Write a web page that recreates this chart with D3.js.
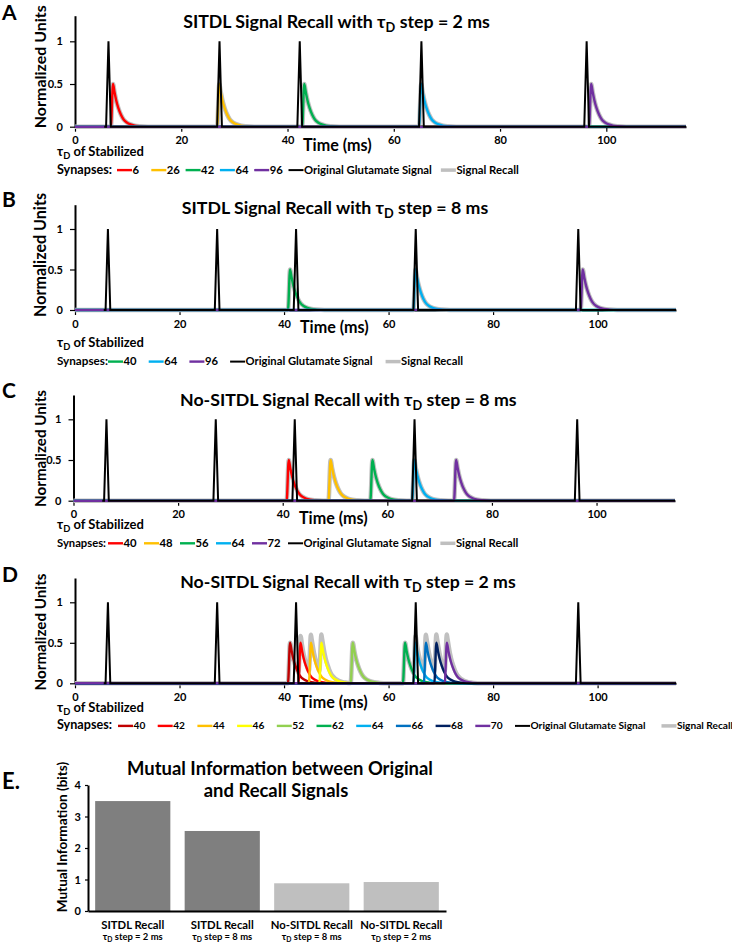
<!DOCTYPE html>
<html><head><meta charset="utf-8">
<script src="https://cdn.jsdelivr.net/npm/d3@7"></script>
<style>
body{margin:0;background:#fff;}
svg text{font-family:Lato,"Open Sans",sans-serif;font-weight:700;fill:#000;}
</style></head><body>
<svg id="chart" width="732" height="945"></svg>
<script>
// ---------------- DATA ----------------
const timeDomain = [0, 115];
const normDomain = [0, 1.3];
const xTickValues = [0, 20, 40, 60, 80, 100];
const yTickValues = [0, 0.5, 1];
// original glutamate spikes (ms)
const glutamateSpikeTimes = [6.3, 27.2, 42.3, 65.2, 96.3];
const glutamateStart = 5.5;
// spike shape (ms offset, normalized value)
const spikeShapeT = [-0.45, 0, 0.45];
const spikeShapeV = [0, 1, 0];
// recall pulse shape (ms after onset, normalized value)
const recallOnsetDelay = 0.75;
const recallShapeT = [0, 0.4, 0.7, 1.0, 1.4, 1.9, 2.4, 3.0, 3.7, 4.5, 5.5, 7.0];
const recallShapeV = [0, 0.5, 0.40, 0.31, 0.22, 0.14, 0.085, 0.05, 0.027, 0.013, 0.005, 0];

const tauA = [6, 26, 42, 64, 96];
const tauB = [40, 64, 96];
const tauC = [40, 48, 56, 64, 72];
const tauD = [40, 42, 44, 46, 52, 62, 64, 66, 68, 70];
const colorsA = ["#ff0000", "#ffc000", "#00b050", "#00b0f0", "#7030a0"];
const colorsB = ["#00b050", "#00b0f0", "#7030a0"];
const colorsC = ["#ff0000", "#ffc000", "#00b050", "#00b0f0", "#7030a0"];
const colorsD = ["#c00000", "#ff0000", "#ffc000", "#ffff00", "#92d050", "#00b050", "#00b0f0", "#0070c0", "#002060", "#7030a0"];
const originalLabel = "Original Glutamate Signal";
const recallLabel = "Signal Recall";

const miCategories = ["SITDL Recall", "SITDL Recall", "No-SITDL Recall", "No-SITDL Recall"];
const miSteps = ["2", "8", "8", "2"];
const miValues = [3.49, 2.54, 0.88, 0.92];
const miTicks = [0, 1, 2, 3, 4];
const miColors = ["#7f7f7f", "#7f7f7f", "#bfbfbf", "#bfbfbf"];

// ---------------- HELPERS ----------------
const svg = d3.select("#chart");

function rich(sel, segs) {
  segs.forEach(([s, sub], i) => {
    const ts = sel.append("tspan").text(s);
    if (sub) ts.attr("font-size", "0.72em").attr("dy", "0.3em");
    else if (i > 0 && segs[i - 1][1]) ts.attr("dy", "-0.216em");
  });
  return sel;
}
function fit(sel, w) {
  const bw = sel.node().getBBox().width;
  const fs = parseFloat(sel.attr("font-size"));
  sel.attr("font-size", (fs * w / bw).toFixed(2));
  return sel;
}
function fittedSize(str, w) {
  const t = svg.append("text").attr("font-size", 10).text(str);
  const bw = t.node().getComputedTextLength();
  t.remove();
  return 10 * w / bw;
}
function interp(pts, t) {
  if (t <= pts[0][0] || t >= pts[pts.length - 1][0]) return 0;
  const i = d3.bisector(d => d[0]).right(pts, t);
  const a = pts[i - 1], b = pts[i];
  return a[1] + (b[1] - a[1]) * (t - a[0]) / (b[0] - a[0]);
}
function recallSeries(tau) {
  const on = tau + recallOnsetDelay;
  return [[timeDomain[0], 0], ...recallShapeT.map((t, i) => [on + t, recallShapeV[i]]), [timeDomain[1], 0]];
}
function glutamateSeries() {
  const pts = [[glutamateStart, 0]];
  glutamateSpikeTimes.forEach(s => spikeShapeT.forEach((t, i) => pts.push([s + t, spikeShapeV[i]])));
  pts.push([timeDomain[1], 0]);
  return pts;
}

const panels = [
  {key: "A", taus: tauA, colors: colorsA, prefix: "SITDL", step: "2", left: 75, right: 686, y0: 126.7, yTop: 15.7,
   letterY: 20, titleX: 336.5, titleY: 28, titleW: 307, ylabCY: 66.7, ylabW: 123, timeX: 303, timeY: 151,
   stabY: 156, synY: 173.5, synW: 55, legX: 117, legMin: 34.3, legGap: 9, origW: 128},
  {key: "B", taus: tauB, colors: colorsB, prefix: "SITDL", step: "8", left: 75, right: 676, y0: 310, yTop: 204.7,
   letterY: 207, titleX: 335, titleY: 214, titleW: 306.6, ylabCY: 255, ylabW: 124, timeX: 300, timeY: 333,
   stabY: 346.7, synY: 365, synW: 51, legX: 108, legMin: 40.7, legGap: 13, origW: 127},
  {key: "C", taus: tauC, colors: colorsC, prefix: "No-SITDL", step: "8", left: 73.5, right: 675, y0: 500.7, yTop: 394.9,
   letterY: 398, titleX: 348.3, titleY: 406, titleW: 336.7, ylabCY: 448.5, ylabW: 117, timeX: 299, timeY: 524,
   stabY: 529, synY: 546.7, synW: 49, legX: 108, legMin: 36, legGap: 9, origW: 128},
  {key: "D", taus: tauD, colors: colorsD, prefix: "No-SITDL", step: "2", left: 75, right: 676, y0: 683.3, yTop: 578,
   letterY: 582, titleX: 348, titleY: 588, titleW: 336, ylabCY: 632, ylabW: 117, timeX: 299, timeY: 708,
   stabY: 711.7, synY: 729.3, synW: 55, legX: 118, legMin: 39.7, legGap: 16, origW: 115}
];

// ---------------- PANELS A-D ----------------
panels.forEach(p => {
  const g = svg.append("g");
  const x = d3.scaleLinear().domain(timeDomain).range([p.left, p.right]);
  const y = d3.scaleLinear().domain(normDomain).range([p.y0, p.yTop]);

  // axes
  const xa = g.append("g").attr("transform", `translate(0,${p.y0})`)
    .call(d3.axisBottom(x).tickValues(xTickValues).tickSize(5).tickSizeOuter(0).tickPadding(5));
  const ya = g.append("g").attr("transform", `translate(${p.left},0)`)
    .call(d3.axisLeft(y).tickValues(yTickValues).tickSize(5).tickSizeOuter(0).tickPadding(7).tickFormat(d3.format("")));
  [xa, ya].forEach(a => {
    a.select(".domain").attr("stroke", "#000").attr("stroke-width", 2);
    a.selectAll(".tick line").attr("stroke", "#000").attr("stroke-width", 1.2);
    a.selectAll(".tick text").attr("font-size", 11).attr("font-family", null).attr("fill", "#000");
  });

  // series
  const recalls = p.taus.map(recallSeries);
  const times = Array.from(new Set(recalls.flatMap(r => r.map(d => d[0])))).sort((a, b) => a - b);
  const sum = times.map(t => [t, d3.sum(recalls, r => interp(r, t))]);
  const smooth = d3.line().x(d => x(d[0])).y(d => y(d[1])).curve(d3.curveMonotoneX);
  const sharp = d3.line().x(d => x(d[0])).y(d => y(d[1]));
  g.append("path").attr("d", smooth(sum)).attr("fill", "none").attr("stroke", "#c0c0c0")
    .attr("stroke-width", 4.5).attr("stroke-linejoin", "round");
  recalls.forEach((r, i) => g.append("path").attr("d", smooth(r)).attr("fill", "none")
    .attr("stroke", p.colors[i]).attr("stroke-width", 2.4));
  g.append("path").attr("d", sharp(glutamateSeries())).attr("fill", "none").attr("stroke", "#000").attr("stroke-width", 2);

  // texts
  g.append("text").attr("x", 2).attr("y", p.letterY).attr("font-size", 21).text(p.key);
  const title = g.append("text").attr("x", p.titleX).attr("y", p.titleY).attr("text-anchor", "middle").attr("font-size", 18);
  rich(title, [[p.prefix + " Signal Recall with τ", false], ["D", true], [" step = " + p.step + " ms", false]]);
  fit(title, p.titleW);
  const yl = g.append("text").attr("transform", `translate(46,${p.ylabCY}) rotate(-90)`).attr("text-anchor", "middle")
    .attr("font-size", 17).text("Normalized Units");
  fit(yl, p.ylabW);
  const tm = g.append("text").attr("x", p.timeX).attr("y", p.timeY).attr("font-size", 17).text("Time (ms)");
  fit(tm, 69);
  const st = g.append("text").attr("x", 57).attr("y", p.stabY).attr("font-size", 13);
  rich(st, [["τ", false], ["D", true], [" of Stabilized", false]]);
  fit(st, 87);
  const sy = g.append("text").attr("x", 57).attr("y", p.synY).attr("font-size", 13).text("Synapses:");
  fit(sy, p.synW);

  // legend
  const legFont = fittedSize(originalLabel, p.origW);
  const entries = p.taus.map((t, i) => ({label: String(t), color: p.colors[i], w: 2.4}))
    .concat([{label: originalLabel, color: "#000", w: 2}, {label: recallLabel, color: "#bfbfbf", w: 3.5}]);
  let lx = p.legX;
  entries.forEach(e => {
    g.append("line").attr("x1", lx).attr("x2", lx + 15).attr("y1", p.synY - 3.4).attr("y2", p.synY - 3.4)
      .attr("stroke", e.color).attr("stroke-width", e.w);
    const tx = g.append("text").attr("x", lx + 15.5).attr("y", p.synY).attr("font-size", legFont.toFixed(2)).text(e.label);
    const tw = tx.node().getComputedTextLength();
    lx += tw < 30 ? p.legMin : 15.5 + tw + p.legGap;
  });
});

// ---------------- PANEL E ----------------
const ge = svg.append("g");
const xb = d3.scaleBand().domain(d3.range(miValues.length)).range([88, 446]).paddingInner(0.16).paddingOuter(0.08);
const yb = d3.scaleLinear().domain([0, 4]).range([911, 785]);
ge.selectAll("rect").data(miValues).join("rect")
  .attr("x", (d, i) => xb(i)).attr("width", xb.bandwidth())
  .attr("y", d => yb(d)).attr("height", d => yb(0) - yb(d))
  .attr("fill", (d, i) => miColors[i]);
const eya = ge.append("g").attr("transform", "translate(88,0)")
  .call(d3.axisLeft(yb).tickValues(miTicks).tickSize(3).tickSizeOuter(0).tickPadding(4).tickFormat(d3.format("d")));
const exa = ge.append("g").attr("transform", "translate(0,911)")
  .call(d3.axisBottom(xb).tickSize(0).tickSizeOuter(0).tickFormat(""));
[eya, exa].forEach(a => {
  a.select(".domain").attr("stroke", "#000").attr("stroke-width", 2);
  a.selectAll(".tick line").attr("stroke", "#000").attr("stroke-width", 1.2);
  a.selectAll(".tick text").attr("font-size", 11).attr("font-family", null).attr("fill", "#000");
});
ge.append("text").attr("x", 2).attr("y", 789).attr("font-size", 22).text("E.");
const et1 = ge.append("text").attr("x", 280).attr("y", 775).attr("text-anchor", "middle").attr("font-size", 18)
  .text("Mutual Information between Original");
fit(et1, 306);
ge.append("text").attr("x", 276).attr("y", 797.3).attr("text-anchor", "middle").attr("font-size", et1.attr("font-size"))
  .text("and Recall Signals");
const eyl = ge.append("text").attr("transform", "translate(67,837) rotate(-90)").attr("text-anchor", "middle")
  .attr("font-size", 13).text("Mutual Information (bits)");
fit(eyl, 151);
const catSize = fittedSize(miCategories[0], 63);
const stepSize = fittedSize("τD step = 2 ms", 62);
miCategories.forEach((c, i) => {
  const cx = xb(i) + xb.bandwidth() / 2;
  ge.append("text").attr("x", cx).attr("y", 928.7).attr("text-anchor", "middle").attr("font-size", catSize.toFixed(2)).text(c);
  const t2 = ge.append("text").attr("x", cx).attr("y", 939.5).attr("text-anchor", "middle").attr("font-size", stepSize.toFixed(2));
  rich(t2, [["τ", false], ["D", true], [" step = " + miSteps[i] + " ms", false]]);
});
</script></body></html>
